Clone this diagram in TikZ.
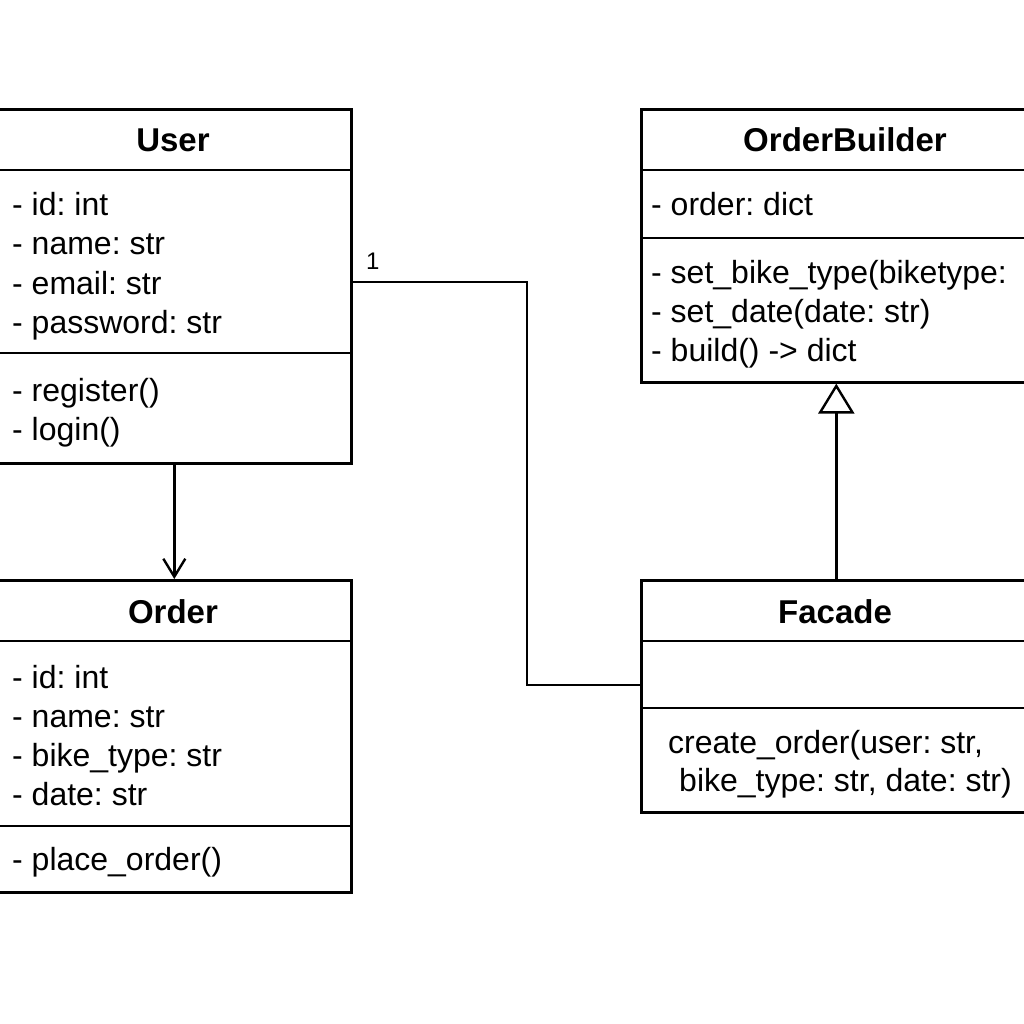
\documentclass[tikz,border=0pt]{standalone}
\usepackage{fontspec}
\setmainfont{Liberation Sans}
\usetikzlibrary{arrows.meta}
\frenchspacing
\begin{document}
\begin{tikzpicture}[x=1pt,y=-1pt,
  classbox/.style={draw, line width=2.6pt, anchor=north west, inner sep=0pt},
  divider/.style={line width=2.6pt},
  conn/.style={line width=2.5pt},
  txt/.style={anchor=base west, inner sep=0pt, font=\fontsize{32}{38}\selectfont},
  ttl/.style={anchor=base, inner sep=0pt, font=\fontsize{33}{38}\selectfont\bfseries},
  mult/.style={anchor=base west, inner sep=0pt, font=\fontsize{24}{28}\selectfont}]
\useasboundingbox (0,0) rectangle (1024,1024);
\clip (0,0) rectangle (1024,1024);
\fill[white] (0,0) rectangle (1024,1024);

% User
\node[classbox, minimum width=354pt, minimum height=354pt] (user) at (-4,108) {};
\draw[divider] (-4,170) -- (350,170);
\draw[divider] (-4,353) -- (350,353);
\node[ttl] (userT) at (173,152) {User};
\node[txt] (u1) at (12,215) {- id: int};
\node[txt] (u2) at (12,254) {- name: str};
\node[txt] (u3) at (12,294) {- email: str};
\node[txt] (u4) at (12,333) {- password: str};
\node[txt] (u5) at (12,401) {- register()};
\node[txt] (u6) at (12,440) {- login()};

% Order
\node[classbox, minimum width=354pt, minimum height=312pt] (order) at (-4,579) {};
\draw[divider] (-4,641) -- (350,641);
\draw[divider] (-4,826) -- (350,826);
\node[ttl] (orderT) at (173,623) {Order};
\node[txt] (o1) at (12,688) {- id: int};
\node[txt] (o2) at (12,727) {- name: str};
\node[txt] (o3) at (12,766) {- bike\_type: str};
\node[txt] (o4) at (12,805) {- date: str};
\node[txt] (o5) at (12,870) {- place\_order()};

% OrderBuilder
\node[classbox, minimum width=390pt, minimum height=273pt] (ob) at (640,108) {};
\draw[divider] (640,170) -- (1030,170);
\draw[divider] (640,238) -- (1030,238);
\node[ttl] (obT) at (845,152) {OrderBuilder};
\node[txt] (b1) at (651,215) {- order: dict};
\node[txt] (b2) at (651,283) {- set\_bike\_type(biketype:};
\node[txt] (b3) at (651,322) {- set\_date(date: str)};
\node[txt] (b4) at (651,361) {- build() -> dict};

% Facade
\node[classbox, minimum width=390pt, minimum height=232pt] (facade) at (640,579) {};
\draw[divider] (640,641) -- (1030,641);
\draw[divider] (640,708) -- (1030,708);
\node[ttl] (faT) at (835,623) {Facade};
\node[txt] (f1) at (668,753) {create\_order(user: str,};
\node[txt] (f2) at (679,791) {bike\_type: str, date: str)};

% connectors
\draw[conn, -{Straight Barb[length=18pt,width=22pt,line width=2.4pt]}] (user.south) -- (order.north);
\draw[conn, -{Triangle[open,length=30pt,width=36pt,line width=2.4pt]}] (facade.north) -- (ob.south);
\coordinate (j1) at (527,282);
\coordinate (j2) at (527,685);
\draw[conn] (user.east |- j1) -- (j1) -- (j2) -- (facade.west |- j2);
\node[mult] (m1) at (366,269) {1};
\end{tikzpicture}
\end{document}
